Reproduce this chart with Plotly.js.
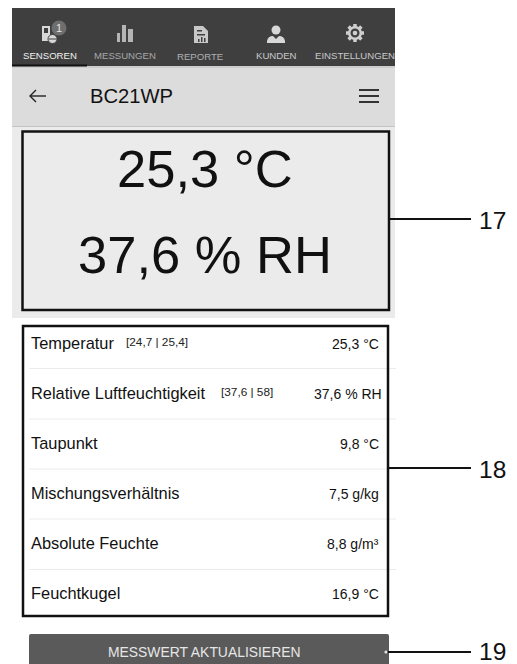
<!DOCTYPE html>
<html><head><meta charset="utf-8">
<script src="https://cdn.plot.ly/plotly-3.0.1.min.js"></script>
<style>html,body{margin:0;padding:0;background:#fff}#c{width:517px;height:664px}</style>
</head><body><div id="c"></div>
<script>
var tabLabels = ["SENSOREN","MESSUNGEN","REPORTE","KUNDEN","EINSTELLUNGEN"];
var deviceName = "BC21WP";
var mainValues = ["25,3 °C","37,6 % RH"];
var rowLabels = ["Temperatur","Relative Luftfeuchtigkeit","Taupunkt","Mischungsverhältnis","Absolute Feuchte","Feuchtkugel"];
var rowRanges = ["[24,7 | 25,4]","[37,6 | 58]","","","",""];
var rowValues = ["25,3 °C","37,6 % RH","9,8 °C","7,5 g/kg","8,8 g/m³","16,9 °C"];
var buttonLabel = "MESSWERT AKTUALISIEREN";
var callouts = ["17","18","19"];

var FONT = "Liberation Sans, Arial, sans-serif";
var shapes = [], ann = [];
var NONE="rgba(0,0,0,0)";
function rect(x0,y0,x1,y1,fill,lc,lw){shapes.push({type:"rect",xref:"x",yref:"y",x0:x0,y0:y0,x1:x1,y1:y1,fillcolor:fill||NONE,line:{color:lc||NONE,width:lw||0}});}
function circle(cx,cy,r,fill,lc,lw){shapes.push({type:"circle",xref:"x",yref:"y",x0:cx-r,y0:cy-r,x1:cx+r,y1:cy+r,fillcolor:fill||NONE,line:{color:lc||NONE,width:lw||0}});}
function line(x0,y0,x1,y1,c,w){shapes.push({type:"line",xref:"x",yref:"y",x0:x0,y0:y0,x1:x1,y1:y1,line:{color:c,width:w}});}
function path(d,fill,lc,lw){shapes.push({type:"path",xref:"x",yref:"y",path:d,fillcolor:fill||NONE,line:{color:lc||NONE,width:lw||0}});}
function text(s,x,y,size,color,anchor){ann.push({text:s,x:x,y:y,xref:"x",yref:"y",showarrow:false,xanchor:anchor||"left",yanchor:"middle",font:{family:FONT,size:size,color:color},borderpad:0});}

// header + panels
rect(12,8,395,66,"#3f3f3f");
rect(12,66,395,127,"#dcdcdc");
line(12,67,395,67,"#bdbdbd",1);
line(12,126.5,395,126.5,"#c4c4c4",1);
rect(12,127,395,318,"#ebebeb");
line(12,65.5,87,65.5,"#111111",2);

// tabs
var tabX=[50,125,200,276,355], tabC=["#f0f0f0","#a8a8a8","#b0b0b0","#c8c8c8","#c8c8c8"], tabY=[55,55,56,55,55];
tabLabels.forEach(function(t,i){text(t,tabX[i],tabY[i],9.6,tabC[i],"center");});

// icons
var c1="#d8d8d8";
rect(42,26,50,41,c1); rect(44,28,48,33,"#3f3f3f");
circle(59,28,7.5,"#6e6e6e");
circle(52.5,39,4.5,c1,"#3f3f3f",1);
line(49,39,56,39,"#3f3f3f",1);
text("1",59,28,11,"#e6e6e6","center");
rect(117,33,120,42,"#b5b5b5"); rect(122,25,126,42,"#b5b5b5"); rect(128,29,133,42,"#b5b5b5");
path("M 194 26 L 203 26 L 208 31 L 208 43 L 194 43 Z","#c8c8c8");
rect(197,30,202,31.5,"#3f3f3f"); rect(197,34,205,35.5,"#3f3f3f"); rect(198,39,199.5,42,"#3f3f3f"); rect(201,37,202.5,42,"#3f3f3f"); rect(204,38,205.5,42,"#3f3f3f");
circle(276,30,4.5,"#d8d8d8");
path("M 267 43 L 267 41 Q 268 36 273 36 L 276 39 L 279 36 Q 284 36 285 41 L 285 43 Z","#d8d8d8");
line(346,33,364,33,"#cfcfcf",3.5); line(355,24,355,42,"#cfcfcf",3.5);
line(348.6,26.6,361.4,39.4,"#cfcfcf",3.5); line(348.6,39.4,361.4,26.6,"#cfcfcf",3.5);
circle(355,33,7,"#cfcfcf"); circle(355,33,4.5,"#3f3f3f"); circle(355,33,2.3,"#cfcfcf");

// toolbar
line(30,96,46,96,"#222222",1.4);
path("M 36 90 L 30 96 L 36 102",NONE,"#222222",1.4);
text(deviceName,88.5,96,20.2,"#111111");
[90,96,102].forEach(function(y){line(359,y,379,y,"#333333",2);});

// main readout
rect(22.5,131.5,389,310,NONE,"#111111",2.5);
text(mainValues[0],204.5,168.5,52.5,"#111111","center");
text(mainValues[1],204.5,254,52.5,"#111111","center");

// row list
var rowY=[344,394,444,494,544,594], sepY=[368.5,419,469,519,569.5];
sepY.forEach(function(y){line(29,y,396,y,"#ececec",1);});
rowLabels.forEach(function(t,i){
  text(t,29.5,rowY[i]-1,16.4,"#111111");
  if(rowRanges[i]) text(rowRanges[i],i==0?124.5:219.5,rowY[i]-2,11.8,"#222222");
  text(rowValues[i],i==1?383:380,rowY[i]-0.5,14,"#111111","right");
});
rect(23,326,388,616,NONE,"#111111",2.5);

// button
path("M 29 664 L 29 636 Q 29 634 31 634 L 387 634 Q 389 634 389 636 L 389 664 Z","#5a5a5a");
text(buttonLabel,204,652,13.9,"#e6e6e6","center");

// callouts
var calloutY=[219,468,652];
callouts.forEach(function(t,i){
  line(i==2?386:389,calloutY[i],471,calloutY[i],"#111111",2);
  if(i==2) circle(386,calloutY[i],1.6,"#e6e6e6");
  text(t,478,calloutY[i]+(i==2?-1:1),24.5,"#111111");
});

Plotly.newPlot("c",[{x:[],y:[],type:"scatter",mode:"markers"}],{
  width:517,height:664,margin:{l:0,r:0,t:0,b:0,pad:0},
  paper_bgcolor:"#ffffff",plot_bgcolor:"#ffffff",showlegend:false,
  xaxis:{range:[0,517],visible:false,fixedrange:true},
  yaxis:{range:[664,0],visible:false,fixedrange:true},
  shapes:shapes,annotations:ann
},{displayModeBar:false,staticPlot:true});
</script></body></html>
